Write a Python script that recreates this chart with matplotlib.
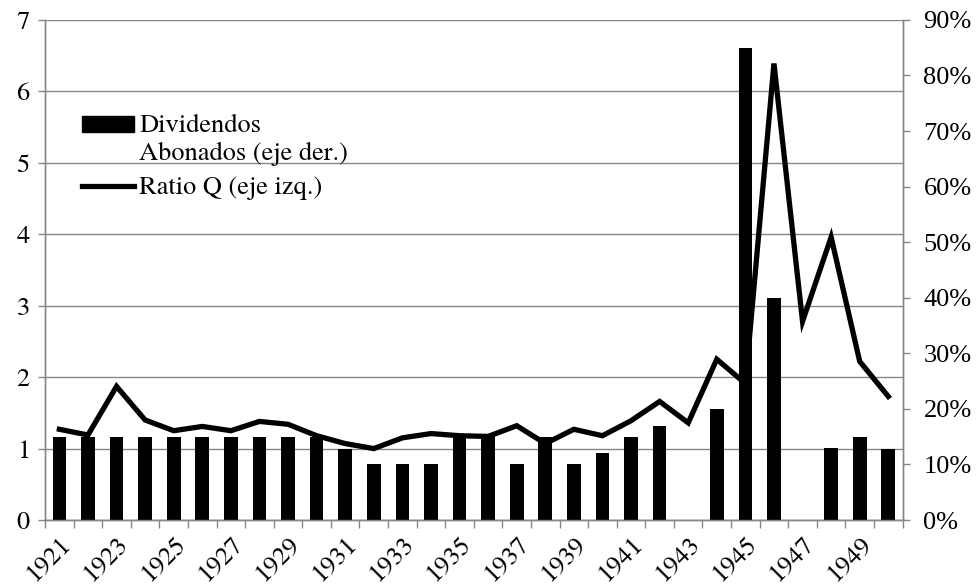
import matplotlib
matplotlib.use("Agg")
import matplotlib.pyplot as plt
import matplotlib.transforms as mtransforms
from matplotlib.patches import Rectangle
from matplotlib.legend_handler import HandlerPatch
from matplotlib.lines import Line2D
import numpy as np

plt.rcParams['font.family'] = ['TeX Gyre Termes', 'Liberation Serif', 'DejaVu Serif']

years = list(range(1921, 1951))
# Tobin's Q ratio (left axis)
ratio_q = [1.27, 1.19, 1.87, 1.40, 1.25, 1.31, 1.25, 1.38, 1.34, 1.18,
           1.07, 1.00, 1.15, 1.21, 1.18, 1.17, 1.32, 1.07, 1.27, 1.18,
           1.39, 1.66, 1.36, 2.25, 1.91, 6.39, 2.78, 3.96, 2.22, 1.73]
# dividends paid, percent (right axis)
dividendos = [15, 15, 15, 15, 15, 15, 15, 15, 15, 15,
              12.8, 10, 10, 10, 15, 15, 10, 15, 10, 12,
              15, 17, 0, 20, 85, 40, 0, 13, 15, 12.7]

grey = '#868686'
x = np.arange(len(years))

fig = plt.figure(figsize=(9.8, 5.86), dpi=100)
ax = fig.add_axes([0.046, 0.1126, 0.875, 0.8534])
ax2 = ax.twinx()

ax.plot(x, ratio_q, color='black', lw=3.8, solid_joinstyle='miter', zorder=3)
ax2.bar(x, dividendos, width=0.48, color='black', zorder=2)

ax.set_xlim(-0.5, len(years) - 0.5)
ax.set_ylim(0, 7)
ax.set_yticks(range(0, 8))
ax2.set_ylim(0, 90)
ax2.set_yticks(range(0, 91, 10))
ax2.set_yticklabels([f'{v}%' for v in range(0, 91, 10)],
                    fontfamily=['Liberation Serif', 'DejaVu Serif'])

ax.yaxis.grid(True, color=grey, lw=1)
ax.set_axisbelow(True)

# category boundaries as ticks, year labels in between
ax.set_xticks(np.arange(-0.5, len(years), 1.0))
ax.set_xticklabels([])
ax.set_xticks(x, minor=True)
ax.set_xticklabels([str(y) if i % 2 == 0 else '' for i, y in enumerate(years)],
                   minor=True, rotation=45, ha='right', va='top',
                   rotation_mode='anchor')
shift = mtransforms.ScaledTranslation(9 / 72, -4 / 72, fig.dpi_scale_trans)
for lbl in ax.get_xticklabels(minor=True):
    lbl.set_transform(lbl.get_transform() + shift)
ax.tick_params(axis='x', which='minor', length=0, pad=9, labelsize=19)
ax.tick_params(axis='x', which='major', length=6, color=grey, width=1)
ax.tick_params(axis='y', length=5, color=grey, width=1, labelsize=19, pad=6)
ax2.tick_params(axis='y', length=5, color=grey, width=1, labelsize=19, pad=10)

for a in (ax, ax2):
    a.spines['top'].set_visible(False)
    for s in ('left', 'right', 'bottom'):
        a.spines[s].set_color(grey)
        a.spines[s].set_linewidth(1)


def raised_patch(legend, orig_handle, xdescent, ydescent, width, height, fontsize):
    return Rectangle((-xdescent, -ydescent + 0.6 * fontsize), width, height)


bar_handle = Rectangle((0, 0), 1, 1, color='black')
line_handle = Line2D([], [], color='black', lw=3.8)
ax2.legend([bar_handle, line_handle],
           ['Dividendos\nAbonados (eje der.)', 'Ratio Q (eje izq.)'],
           handler_map={Rectangle: HandlerPatch(patch_func=raised_patch)},
           loc='upper left', bbox_to_anchor=(82 / 980, 1 - 114 / 586),
           bbox_transform=fig.transFigure, frameon=False, fontsize=19,
           handlelength=1.97, handleheight=0.55, handletextpad=0.2,
           labelspacing=0.4, borderpad=0, borderaxespad=0)

fig.savefig('out.png', dpi=100)
